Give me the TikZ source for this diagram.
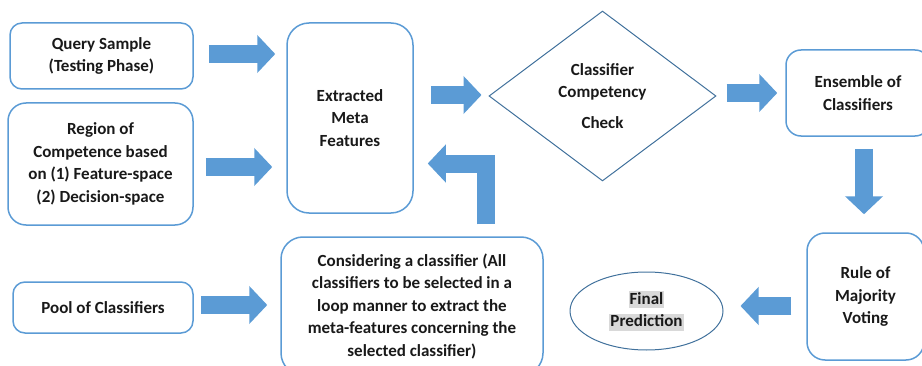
\documentclass[tikz,border=0pt]{standalone}
\usepackage{fontspec}
\setmainfont{Carlito}
\usetikzlibrary{shapes.geometric,arrows.meta,calc}
\definecolor{boxblue}{HTML}{5B9BD5}
\definecolor{edgeblue}{HTML}{41719C}
\definecolor{hlgray}{HTML}{D9D9D9}
\setlength{\fboxsep}{1pt}
\tikzset{
  lbl/.style={font=\bfseries\fontsize{17}{22.5}\selectfont, text=black!90, align=center},
  roundbox/.style={lbl, draw=boxblue, line width=1.5pt, rounded corners=#1, inner sep=0pt},
  roundbox/.default=12pt,
  blockarrow/.style={draw=boxblue, line width=18pt, -{Triangle[length=18pt,width=37pt]}}
}
\begin{document}
\begin{tikzpicture}[x=1pt,y=1pt]
\useasboundingbox (0,0) rectangle (922,365);

% Inputs
\node[roundbox, minimum width=183pt, minimum height=66pt] (query) at (101.5,309) {Query Sample\\(Testing Phase)};
\node[roundbox=18pt, minimum width=185pt, minimum height=122pt] (region) at (100.5,201) {Region of\\Competence based\\on (1) Feature-space\\(2) Decision-space};
\node[roundbox, minimum width=180pt, minimum height=51pt] (pool) at (103,57.5) {Pool of Classifiers};

% Middle column
\node[roundbox=22pt, minimum width=126pt, minimum height=190pt] (meta) at (350,247) {Extracted\\Meta\\Features};
\node[roundbox=22pt, minimum width=262pt, minimum height=138pt] (select) at (412,59) {Considering a classifier (All\\classifiers to be selected in a\\loop manner to extract the\\meta-features concerning the\\selected classifier)};

% Check
\node[lbl, diamond, draw=edgeblue, line width=1pt, aspect=1.335, inner sep=0pt, minimum width=227pt, minimum height=170pt] (check) at (602.5,269) {Classifier\\Competency\\[8pt]Check};

% Right column
\node[roundbox=15pt, minimum width=144pt, minimum height=86pt] (ensemble) at (858,272) {Ensemble of\\Classifiers};
\node[roundbox=18pt, minimum width=117pt, minimum height=127pt] (voting) at (865.5,68.5) {Rule of\\Majority\\Voting};
\node[lbl, ellipse, draw=edgeblue, line width=1pt, inner sep=0pt, minimum width=153pt, minimum height=78pt] (final) at (646.5,54) {\colorbox{hlgray}{\vphantom{Pg}Final}\\\colorbox{hlgray}{\vphantom{Pg}Prediction}};

% Block arrows
\draw[blockarrow] ($(query.east)+(15,2)$) -- ($(meta.west |- query.east)+(-11,2)$);
\draw[blockarrow] ($(region.east)+(12,-3)$) -- ($(meta.west |- region.east)+(-14,-3)$);
\draw[blockarrow] ($(pool.east)+(7,2.5)$) -- ($(select.west |- pool.east)+(-13,2.5)$);
\draw[blockarrow] ($(meta.east |- check.west)+(17,1)$) -- ($(check.west)+(-7,1)$);
\draw[blockarrow] ($(check.east |- ensemble.west)+(10,0)$) -- ($(ensemble.west)+(-8,0)$);
\draw[blockarrow] ($(ensemble.south)+(6,-12)$) -- ($(ensemble.south |- voting.north)+(6,18)$);
\draw[blockarrow] ($(voting.west |- final.east)+(-15,5)$) -- ($(final.east)+(17,5)$);
% loop back to the meta features
\draw[blockarrow] ($(select.north)+(73.5,12)$) |- ($(meta.east)+(14,-45.5)$);

\end{tikzpicture}
\end{document}
